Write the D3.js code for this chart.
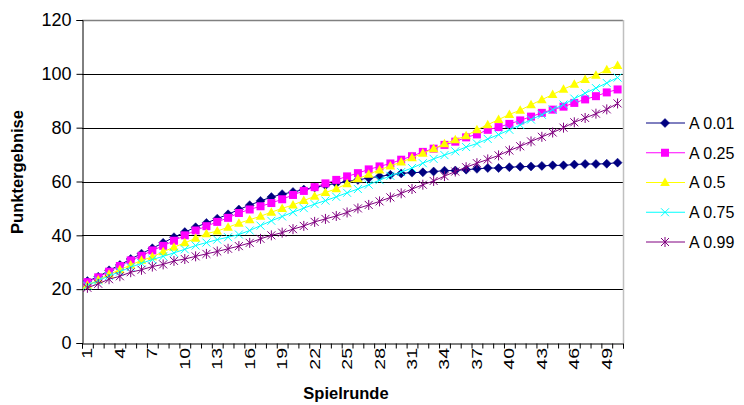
<!DOCTYPE html>
<html>
<head>
<meta charset="utf-8">
<script src="https://cdn.jsdelivr.net/npm/d3@7/dist/d3.min.js"></script>
<style>
  html, body { margin: 0; padding: 0; background: #fff; }
  svg { display: block; font-family: "Liberation Sans", Arial, sans-serif; }
</style>
</head>
<body>
<svg id="chart" width="744" height="405"></svg>
<script>
// ---------- data ----------
const categories = [1,2,3,4,5,6,7,8,9,10,11,12,13,14,15,16,17,18,19,20,21,22,23,24,25,
                    26,27,28,29,30,31,32,33,34,35,36,37,38,39,40,41,42,43,44,45,46,47,48,49,50];
const xTickLabels = [1,4,7,10,13,16,19,22,25,28,31,34,37,40,43,46,49];
const yTicks = [0,20,40,60,80,100,120];
const seriesNames = ["A 0.01","A 0.25","A 0.5","A 0.75","A 0.99"];

const a001 = [23.0,24.6,27.0,29.0,31.2,33.2,35.2,37.2,39.3,41.2,43.0,44.6,46.2,47.8,49.6,51.2,52.8,54.2,55.3,56.1,
              57.0,57.8,58.6,59.3,60.0,60.6,61.3,61.9,62.5,63.0,63.3,63.4,63.7,64.0,64.1,64.4,64.7,65.0,65.0,65.3,
              65.5,65.6,65.8,66.0,66.0,66.3,66.5,66.5,66.6,67.0];
const a025 = [22.6,24.4,26.5,28.6,30.7,32.4,34.4,36.1,38.0,40.0,41.8,43.4,45.0,46.5,48.3,49.6,50.8,52.0,53.4,55.0,
              56.5,57.9,59.3,60.6,61.9,63.1,64.5,65.6,66.7,68.1,69.4,71.0,72.2,73.6,74.8,76.4,77.5,79.2,80.2,81.4,
              82.7,84.1,85.5,86.7,87.8,89.2,90.5,91.7,93.1,94.2];
const a050 = [21.5,23.4,25.5,27.2,29.0,30.7,32.0,33.9,35.6,37.2,38.9,40.6,41.6,43.0,44.5,45.8,47.1,48.6,50.0,51.3,
              52.9,54.5,55.9,57.3,59.2,61.0,62.7,64.3,65.8,67.2,68.8,70.5,72.2,74.0,75.5,77.0,79.2,81.1,83.0,84.9,
              86.5,88.5,90.4,92.3,94.3,96.1,97.9,99.5,101.5,103.1];
const a075 = [21.3,23.2,24.9,26.5,28.2,29.6,31.0,32.2,33.5,34.8,36.2,37.3,38.4,39.3,40.3,41.8,43.6,45.4,47.0,48.6,
              50.1,51.6,52.9,54.3,55.8,57.2,58.8,60.5,62.1,63.5,65.0,66.8,68.4,69.8,71.2,72.8,74.1,75.8,77.4,79.2,
              81.0,83.0,84.8,86.7,88.6,90.8,92.8,94.7,96.6,98.6];
const a099 = [20.5,22.0,23.7,24.8,26.3,27.2,28.4,29.2,30.5,31.2,32.2,33.1,34.0,35.0,36.0,37.2,38.7,40.0,41.0,42.3,
              43.5,45.0,46.1,47.2,48.5,50.0,51.3,52.6,54.1,55.6,57.2,58.8,60.2,62.0,63.7,65.3,66.8,68.2,69.7,71.5,
              73.1,74.9,76.6,78.2,80.0,82.0,83.6,85.2,86.8,89.0];

// ---------- styles ----------
const seriesValues = [a001, a025, a050, a075, a099];
const colors = ["#000080", "#FF00FF", "#FFFF00", "#00FFFF", "#800080"];
const markerTypes = ["diamond", "square", "triangle", "x", "star"];

const svg = d3.select("#chart");
const L = 82, R = 623, T = 20, B = 343;

const x = d3.scaleBand().domain(categories).range([L, R]).padding(0);
const xb = d3.scaleLinear().domain([0, categories.length]).range([L, R]);
const y = d3.scaleLinear().domain([0, 120]).range([B, T]);
const cx = c => x(c) + x.bandwidth() / 2;

// gridlines
svg.append("g").selectAll("line").data(yTicks.filter(v => v > 0 && v < 120)).join("line")
  .attr("x1", L).attr("x2", R)
  .attr("y1", d => Math.round(y(d)) + 0.5).attr("y2", d => Math.round(y(d)) + 0.5)
  .attr("stroke", "#000").attr("stroke-width", 1);

// plot border top & right
svg.append("line").attr("x1", L).attr("x2", R).attr("y1", T + 0.5).attr("y2", T + 0.5)
  .attr("stroke", "#808080").attr("stroke-width", 1.5);
svg.append("line").attr("x1", R + 0.5).attr("x2", R + 0.5).attr("y1", T).attr("y2", B)
  .attr("stroke", "#c0c0c0").attr("stroke-width", 1.5);

// y axis
const yAxis = d3.axisLeft(y).tickValues(yTicks).tickSize(6).tickPadding(5);
const gy = svg.append("g").attr("transform", `translate(${L + 0.5},0)`).call(yAxis);
gy.select(".domain").attr("stroke", "#000");
gy.selectAll(".tick line").attr("stroke", "#000");
gy.selectAll(".tick text").attr("font-size", 18).attr("fill", "#000")
  .attr("font-family", "Liberation Sans, Arial, sans-serif");

// x axis: boundary ticks
const xTickAxis = d3.axisBottom(xb).tickValues(d3.range(0, categories.length + 1))
  .tickSize(5).tickFormat("");
const gx = svg.append("g").attr("transform", `translate(0,${B + 0.5})`).call(xTickAxis);
gx.select(".domain").attr("stroke", "#000");
gx.selectAll(".tick line").attr("stroke", "#000");

// x labels
const xLabelAxis = d3.axisBottom(x).tickValues(xTickLabels).tickSize(0);
const gxl = svg.append("g").attr("transform", `translate(0,${B})`).call(xLabelAxis);
gxl.select(".domain").remove();
gxl.selectAll(".tick text")
  .attr("font-size", 15).attr("fill", "#000")
  .attr("font-family", "Liberation Sans, Arial, sans-serif")
  .attr("text-anchor", "end")
  .attr("dy", null)
  .attr("y", 0)
  .attr("transform", "translate(5,5) rotate(-90) scale(1.3,1)");

// axis titles
svg.append("text").attr("transform", "translate(23,172) rotate(-90)")
  .attr("text-anchor", "middle").attr("font-size", 16.5).attr("font-weight", "bold")
  .text("Punktergebnise");
svg.append("text").attr("x", 346).attr("y", 399)
  .attr("text-anchor", "middle").attr("font-size", 16.5).attr("font-weight", "bold")
  .text("Spielrunde");

// markers
function drawMarker(g, type, color) {
  if (type === "diamond") {
    g.append("path").attr("d", "M0,-4.5L4.5,0L0,4.5L-4.5,0Z").attr("fill", color).attr("stroke", color).attr("stroke-width", 0.5);
  } else if (type === "square") {
    g.append("rect").attr("x", -4).attr("y", -4).attr("width", 8).attr("height", 8).attr("fill", color);
  } else if (type === "triangle") {
    g.append("path").attr("d", "M0,-5L4.8,3.5L-4.8,3.5Z").attr("fill", color);
  } else if (type === "x") {
    g.append("path").attr("d", "M-4,-4L4,4M-4,4L4,-4").attr("stroke", color).attr("stroke-width", 1).attr("fill", "none");
  } else if (type === "star") {
    g.append("path").attr("d", "M-4,-4L4,4M-4,4L4,-4M0,-5L0,5").attr("stroke", color).attr("stroke-width", 1).attr("fill", "none");
  }
}

const line = d3.line().x((d, i) => cx(categories[i])).y(d => y(d));

seriesValues.forEach((vals, si) => {
  const g = svg.append("g");
  g.append("path").datum(vals).attr("d", line)
    .attr("fill", "none").attr("stroke", colors[si]).attr("stroke-width", 1);
  g.selectAll("g.m").data(vals).join("g").attr("class", "m")
    .attr("transform", (d, i) => `translate(${cx(categories[i])},${y(d)})`)
    .each(function () { drawMarker(d3.select(this), markerTypes[si], colors[si]); });
});

// legend
const legendY = d3.scalePoint().domain(seriesNames).range([123, 242]);
const lg = svg.append("g");
seriesNames.forEach((name, si) => {
  const yy = legendY(name);
  lg.append("line").attr("x1", 646).attr("x2", 685).attr("y1", yy).attr("y2", yy)
    .attr("stroke", colors[si]).attr("stroke-width", 1);
  const m = lg.append("g").attr("transform", `translate(665,${yy})`);
  drawMarker(m, markerTypes[si], colors[si]);
  lg.append("text").attr("x", 689).attr("y", yy + 5.8).attr("font-size", 16).attr("fill", "#000").text(name);
});
</script>
</body>
</html>
